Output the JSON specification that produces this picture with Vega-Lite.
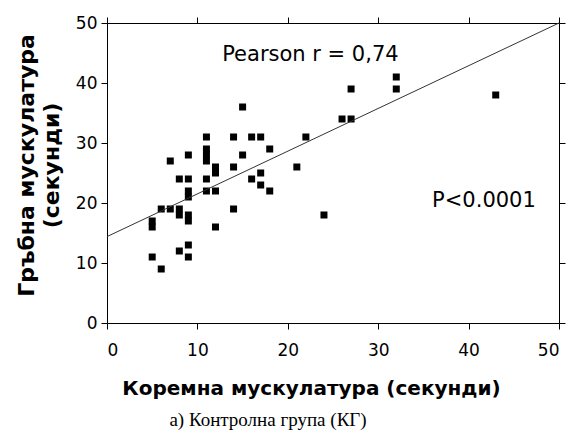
{
  "$schema": "https://vega.github.io/schema/vega-lite/v6.json",
  "width": 452,
  "height": 300,
  "autosize": {"type": "none"},
  "padding": {"left": 107, "top": 23, "right": 12, "bottom": 109},
  "background": "white",
  "title": {
    "text": "а) Контролна група (КГ)",
    "orient": "bottom",
    "anchor": "middle",
    "dx": -65,
    "offset": 13,
    "font": "Liberation Serif",
    "fontSize": 19,
    "fontWeight": "normal",
    "color": "black"
  },
  "datasets": {
    "subjects": [
      {"abdominal": 5, "back": 11}, {"abdominal": 5, "back": 16}, {"abdominal": 5, "back": 17},
      {"abdominal": 6, "back": 9}, {"abdominal": 6, "back": 19}, {"abdominal": 7, "back": 19},
      {"abdominal": 7, "back": 27}, {"abdominal": 8, "back": 12}, {"abdominal": 8, "back": 18},
      {"abdominal": 8, "back": 19}, {"abdominal": 8, "back": 24}, {"abdominal": 9, "back": 11},
      {"abdominal": 9, "back": 13}, {"abdominal": 9, "back": 17}, {"abdominal": 9, "back": 18},
      {"abdominal": 9, "back": 21}, {"abdominal": 9, "back": 22}, {"abdominal": 9, "back": 24},
      {"abdominal": 9, "back": 28}, {"abdominal": 11, "back": 22}, {"abdominal": 11, "back": 24},
      {"abdominal": 11, "back": 27}, {"abdominal": 11, "back": 28}, {"abdominal": 11, "back": 29},
      {"abdominal": 11, "back": 31}, {"abdominal": 12, "back": 16}, {"abdominal": 12, "back": 22},
      {"abdominal": 12, "back": 25}, {"abdominal": 12, "back": 26}, {"abdominal": 14, "back": 19},
      {"abdominal": 14, "back": 26}, {"abdominal": 14, "back": 31}, {"abdominal": 15, "back": 28},
      {"abdominal": 15, "back": 36}, {"abdominal": 16, "back": 24}, {"abdominal": 16, "back": 31},
      {"abdominal": 17, "back": 23}, {"abdominal": 17, "back": 25}, {"abdominal": 17, "back": 31},
      {"abdominal": 18, "back": 22}, {"abdominal": 18, "back": 29}, {"abdominal": 21, "back": 26},
      {"abdominal": 22, "back": 31}, {"abdominal": 24, "back": 18}, {"abdominal": 26, "back": 34},
      {"abdominal": 27, "back": 34}, {"abdominal": 27, "back": 39}, {"abdominal": 32, "back": 39},
      {"abdominal": 32, "back": 41}, {"abdominal": 43, "back": 38}
    ],
    "fit": [
      {"abdominal": 0, "back": 14.4},
      {"abdominal": 50, "back": 50}
    ]
  },
  "layer": [
    {
      "data": {"name": "subjects"},
      "mark": {"type": "point", "shape": "square", "filled": true, "size": 49, "color": "black", "opacity": 1},
      "encoding": {
        "x": {
          "field": "abdominal", "type": "quantitative",
          "scale": {"domain": [0, 50], "nice": false, "zero": false},
          "axis": {
            "orient": "bottom",
            "values": [0, 10, 20, 30, 40, 50],
            "labelPadding": 13,
            "title": "Коремна мускулатура (секунди)",
            "titleX": 204,
            "titleY": 71,
            "titleBaseline": "alphabetic",
            "titleFont": "DejaVu Sans",
            "titleFontSize": 20,
            "titleFontWeight": "bold"
          }
        },
        "y": {
          "field": "back", "type": "quantitative",
          "scale": {"domain": [0, 50], "nice": false, "zero": false},
          "axis": {
            "orient": "left",
            "values": [0, 10, 20, 30, 40, 50],
            "title": ["Гръбна мускулатура", "(секунди)"],
            "titleX": -81,
            "titleY": 142,
            "titleAngle": -90,
            "titleBaseline": "middle",
            "titleLineHeight": 25,
            "titleFont": "DejaVu Sans",
            "titleFontSize": 22,
            "titleFontWeight": "bold"
          }
        }
      }
    },
    {
      "data": {"name": "fit"},
      "mark": {"type": "line", "color": "#333333", "strokeWidth": 1},
      "encoding": {
        "x": {
          "field": "abdominal", "type": "quantitative",
          "scale": {"domain": [0, 50], "nice": false, "zero": false},
          "axis": {"orient": "top", "values": [0, 10, 20, 30, 40, 50], "labels": false, "title": null}
        },
        "y": {
          "field": "back", "type": "quantitative",
          "scale": {"domain": [0, 50], "nice": false, "zero": false},
          "axis": {"orient": "right", "values": [0, 10, 20, 30, 40, 50], "labels": false, "title": null}
        }
      }
    },
    {
      "data": {"values": [{}]},
      "mark": {"type": "text", "text": "Pearson r = 0,74", "align": "center", "baseline": "alphabetic", "font": "DejaVu Sans", "fontSize": 21, "color": "black"},
      "encoding": {
        "x": {"datum": 22.5, "type": "quantitative", "axis": null},
        "y": {"datum": 43.7, "type": "quantitative", "axis": null}
      }
    },
    {
      "data": {"values": [{}]},
      "mark": {"type": "text", "text": "P<0.0001", "align": "center", "baseline": "alphabetic", "font": "DejaVu Sans", "fontSize": 21, "color": "black"},
      "encoding": {
        "x": {"datum": 41.7, "type": "quantitative", "axis": null},
        "y": {"datum": 19.4, "type": "quantitative", "axis": null}
      }
    }
  ],
  "resolve": {"axis": {"x": "independent", "y": "independent"}},
  "config": {
    "view": {"stroke": null},
    "axis": {
      "grid": false,
      "domainColor": "black",
      "domainWidth": 1,
      "tickColor": "black",
      "tickWidth": 1,
      "tickSize": 6,
      "labelFont": "DejaVu Sans",
      "labelFontSize": 17,
      "labelColor": "black",
      "labelPadding": 4,
      "titleColor": "black"
    }
  }
}
